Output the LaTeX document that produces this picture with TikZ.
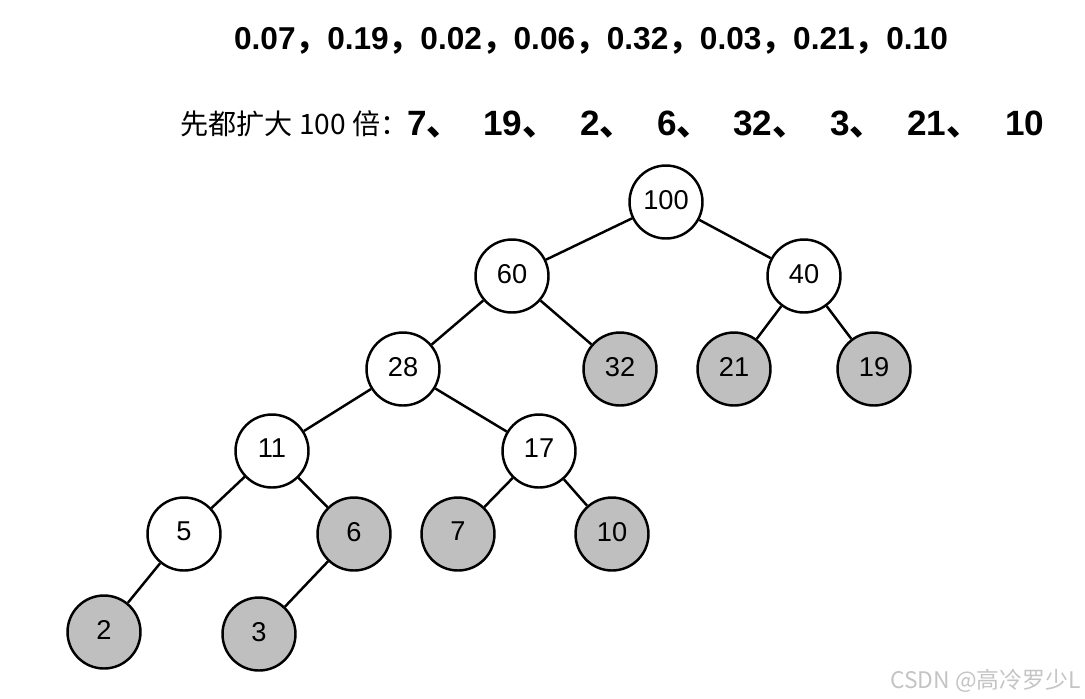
\documentclass[tikz,border=0pt]{standalone}
\usepackage{fontspec}
\setmainfont{Liberation Sans}
\newfontfamily\cjk{Noto Sans CJK SC}
\definecolor{leafgray}{HTML}{BFBFBF}
\definecolor{markgray}{HTML}{C4C4C4}
\newcommand{\fwcomma}{{\cjk\bfseries ，}}
\newcommand{\dun}{{\cjk\bfseries 、}}

\begin{document}
\begin{tikzpicture}[x=0.02cm,y=-0.02cm,
  heapnode/.style={circle,draw,line width=1.4pt,fill=white,minimum size=1.46cm,
    inner sep=0pt,font=\fontsize{15.5}{15.5}\selectfont,text depth=0.28em},
  leaf/.style={heapnode,fill=leafgray},
  branch/.style={line width=1.4pt},
  bignum/.style={font=\bfseries\fontsize{20}{20}\selectfont,anchor=base west,inner sep=0pt}]
  \useasboundingbox (0,0) rectangle (1085,698);
  % the data and the scaled weights
  \node[font=\bfseries\fontsize{18}{18}\selectfont,anchor=base] (ratios) at (591,49)
    {0.07\fwcomma0.19\fwcomma0.02\fwcomma0.06\fwcomma0.32\fwcomma0.03\fwcomma0.21\fwcomma0.10};
  \node[font=\cjk\fontsize{16}{16}\selectfont,anchor=base west,inner sep=0pt] (scale) at (180,134)
    {先都扩大 100 倍：};
  \foreach \v/\px [count=\i] in {7\dun/407,19\dun/483,2\dun/580,6\dun/657,32\dun/733,3\dun/830,21\dun/907,10/1005}
    \node[bignum] (w\i) at (\px,135) {\v};
  % the tree
  \node[heapnode] (n100) at (666,202) {100};
  \node[heapnode] (n60) at (512,276) {60};
  \node[heapnode] (n40) at (804,276) {40};
  \node[heapnode] (n28) at (403,369) {28};
  \node[leaf] (n32) at (620,369) {32};
  \node[leaf] (n21) at (734,369) {21};
  \node[leaf] (n19) at (874,369) {19};
  \node[heapnode] (n11) at (272,451) {11};
  \node[heapnode] (n17) at (539,451) {17};
  \node[heapnode] (n5) at (184,534) {5};
  \node[leaf] (n6) at (354,534) {6};
  \node[leaf] (n7) at (458,534) {7};
  \node[leaf] (n10) at (612,534) {10};
  \node[leaf] (n2) at (104,632) {2};
  \node[leaf] (n3) at (259,634) {3};
  \foreach \a/\b in {n100/n60,n100/n40,n60/n28,n60/n32,n40/n21,n40/n19,n28/n11,n28/n17,
                     n11/n5,n11/n6,n17/n7,n17/n10,n5/n2,n6/n3}
    \draw[branch] (\a) -- (\b);
  \node[font=\cjk\fontsize{13}{13}\selectfont,text=markgray,anchor=base east,inner sep=0pt] (mark)
    at (1081,688) {CSDN @高冷罗少L};
\end{tikzpicture}
\end{document}
